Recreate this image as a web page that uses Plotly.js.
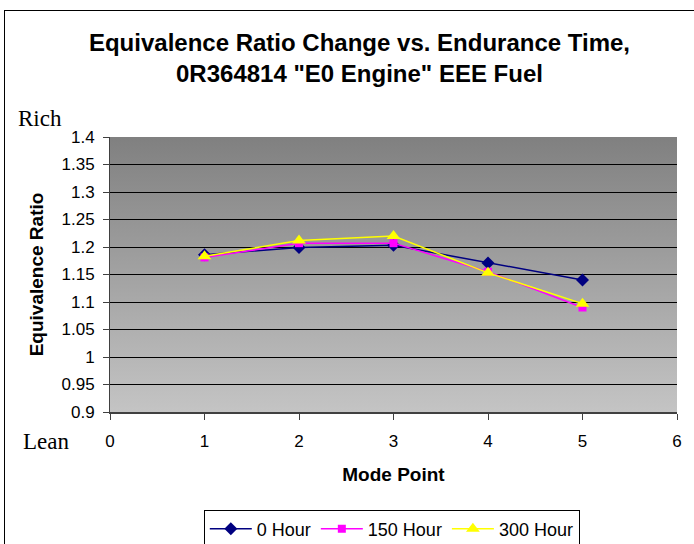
<!DOCTYPE html>
<html>
<head>
<meta charset="utf-8">
<script src="https://cdn.plot.ly/plotly-3.0.1.min.js"></script>
<style>
  html, body { margin: 0; padding: 0; background: #fff; overflow: hidden; }
  #wrap { position: relative; width: 694px; height: 544px; }
  #chart { width: 694px; height: 544px; }
  #frame { position: absolute; left: 4px; top: 10px; width: 720px; height: 600px;
           border: 1px solid #000; pointer-events: none; box-sizing: border-box; }
</style>
</head>
<body>
<div id="wrap">
  <div id="chart"></div>
  <div id="frame"></div>
</div>
<script>
// Data
const modePoints = [1, 2, 3, 4, 5];
const hour0   = [1.186, 1.199, 1.203, 1.171, 1.140];
const hour150 = [1.181, 1.207, 1.207, 1.155, 1.090];
const hour300 = [1.183, 1.212, 1.220, 1.153, 1.097];
const seriesNames = ['0 Hour', '150 Hour', '300 Hour'];
const yTicks = [0.9, 0.95, 1, 1.05, 1.1, 1.15, 1.2, 1.25, 1.3, 1.35, 1.4];
const xTicks = [0, 1, 2, 3, 4, 5, 6];

const font = 'Liberation Sans, Arial, sans-serif';
const serif = 'Liberation Serif, Times New Roman, serif';

const traces = [
  { x: modePoints, y: hour0, name: seriesNames[0], mode: 'lines+markers',
    line: { color: '#000080', width: 1.5 },
    marker: { symbol: 'diamond', size: 10, color: '#000080' } },
  { x: modePoints, y: hour150, name: seriesNames[1], mode: 'lines+markers',
    line: { color: '#FF00FF', width: 1.5 },
    marker: { symbol: 'square', size: 8, color: '#FF00FF' } },
  { x: modePoints, y: hour300, name: seriesNames[2], mode: 'lines+markers',
    line: { color: '#FFFF00', width: 1.5 },
    marker: { symbol: 'triangle-up', size: 12, color: '#FFFF00' } }
];

const gradSvg = "<svg xmlns='http://www.w3.org/2000/svg' width='10' height='100' preserveAspectRatio='none'>" +
  "<defs><linearGradient id='g' x1='0' y1='0' x2='0' y2='1'>" +
  "<stop offset='0' stop-color='#808080'/><stop offset='1' stop-color='#c4c4c4'/>" +
  "</linearGradient></defs><rect width='10' height='100' fill='url(#g)'/></svg>";
const gradUri = 'data:image/svg+xml;charset=utf-8,' + encodeURIComponent(gradSvg);

const layout = {
  width: 694, height: 544,
  margin: { l: 110, r: 17, t: 137, b: 132, autoexpand: false },
  paper_bgcolor: '#ffffff',
  plot_bgcolor: '#a0a0a0',
  title: {
    text: 'Equivalence Ratio Change vs. Endurance Time,<br>0R364814 "E0 Engine" EEE Fuel',
    font: { family: font, size: 24, color: '#000', weight: 'bold' },
    x: 0.518, xanchor: 'center', y: 1 - 51 / 544, yanchor: 'middle', yref: 'container'
  },
  xaxis: {
    range: [0, 6], tickvals: xTicks, ticktext: xTicks.map(String),
    showgrid: false, zeroline: false, automargin: false,
    showline: true, linecolor: '#404040', linewidth: 1.5,
    ticks: 'outside', ticklen: 6, tickcolor: '#404040',
    ticklabelstandoff: 7,
    tickfont: { family: font, size: 17, color: '#000' },
    title: { text: 'Mode Point', standoff: 18,
             font: { family: font, size: 19, color: '#000', weight: 'bold' } },
    fixedrange: true
  },
  yaxis: {
    range: [0.9, 1.4], tickvals: yTicks, ticktext: yTicks.map(String),
    showgrid: true, gridcolor: '#000000', gridwidth: 1, zeroline: false, automargin: false,
    showline: true, linecolor: '#404040', linewidth: 1,
    ticks: 'outside', ticklen: 6, tickcolor: '#404040',
    ticklabelstandoff: 5,
    tickfont: { family: font, size: 17, color: '#000' },
    title: { text: 'Equivalence Ratio', standoff: 12,
             font: { family: font, size: 19, color: '#000', weight: 'bold' } },
    fixedrange: true
  },
  legend: {
    orientation: 'h', x: 0.497, xanchor: 'center', y: -0.355, yanchor: 'top',
    bordercolor: '#000', borderwidth: 1, bgcolor: '#fff',
    font: { family: font, size: 18, color: '#000' },
    itemwidth: 42, tracegroupgap: 0
  },
  images: [{
    source: gradUri, xref: 'paper', yref: 'paper', x: 0, y: 1, sizex: 1, sizey: 1,
    xanchor: 'left', yanchor: 'top', sizing: 'stretch', layer: 'below'
  }],
  annotations: [
    { text: 'Rich', xref: 'paper', yref: 'paper', x: -0.124, y: 1.069,
      xanchor: 'center', yanchor: 'middle', showarrow: false,
      font: { family: serif, size: 23, color: '#000' } },
    { text: 'Lean', xref: 'paper', yref: 'paper', x: -0.113, y: -0.109,
      xanchor: 'center', yanchor: 'middle', showarrow: false,
      font: { family: serif, size: 23, color: '#000' } }
  ],
  showlegend: true
};

Plotly.newPlot('chart', traces, layout, { displayModeBar: false, staticPlot: true });
</script>
</body>
</html>
